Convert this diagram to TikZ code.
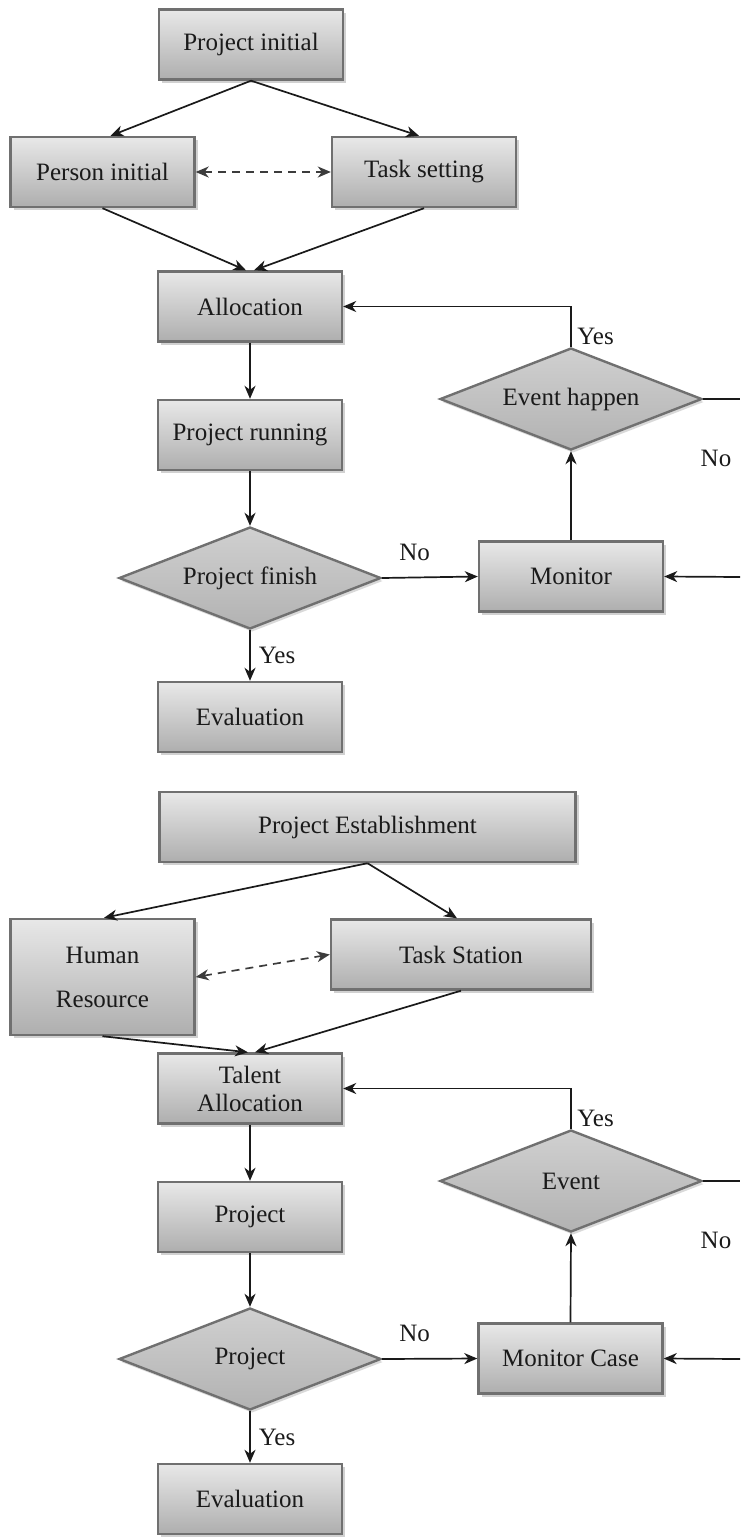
\documentclass[tikz,border=0pt]{standalone}
\usepackage{fontspec}
\setmainfont{Liberation Serif}
\usepackage{tikz}
\usetikzlibrary{arrows.meta,shapes.geometric,shadows,positioning}
\definecolor{boxtop}{HTML}{E8E8E8}
\definecolor{boxbottom}{HTML}{AEAEAE}
\definecolor{boxedge}{HTML}{707070}
\definecolor{diatop}{HTML}{D0D0D0}
\definecolor{diabottom}{HTML}{B2B2B2}
\definecolor{ink}{HTML}{1A1A1A}

\begin{document}
\begin{tikzpicture}[x=0.5pt,y=-0.5pt,
    font=\fontsize{12.5}{15}\selectfont, text=ink,
    block/.style={rectangle,draw=boxedge,line width=1.2pt,top color=boxtop,bottom color=boxbottom,
      minimum width=92pt,minimum height=35pt,inner sep=2pt,
      drop shadow={shadow xshift=1.5pt,shadow yshift=-1.5pt,fill=black!18,opacity=1}},
    decision/.style={diamond,aspect=2.6,draw=boxedge,line width=1.2pt,top color=diatop,bottom color=diabottom,
      minimum width=131pt,minimum height=51pt,inner sep=1pt,
      drop shadow={shadow xshift=1pt,shadow yshift=-1.5pt,fill=black!15,opacity=1}},
    connector/.style={-{Stealth[length=6.5pt,width=5.5pt,inset=2pt]},line width=0.85pt,draw=ink},
    dconnector/.style={{Stealth[length=6.5pt,width=5.5pt,inset=2pt]}-{Stealth[length=6.5pt,width=5.5pt,inset=2pt]},
      line width=0.85pt,draw=ink!85,dash pattern=on 4pt off 3pt},
    line/.style={line width=0.85pt,draw=ink},
    tag/.style={inner sep=1pt}]
    \useasboundingbox (0,0) rectangle (740,1537);
    % First chart
    \node (p_init) [block] at (251,44.5) {Project initial};
    \node (person) [block] at (102.5,172) {Person initial};
    \node (task) [block] at (424,172) {Task setting};
    \node (alloc) [block] at (250,306.5) {Allocation};
    \node (running) [block] at (250,435) {Project running};
    \node (finish) [decision] at (250,578) {Project finish};
    \node (eval_a) [block] at (250,717) {Evaluation};
    \node (event_a) [decision] at (571,399) {Event happen};
    \node (monitor_a) [block] at (571,576.5) {Monitor};
    \coordinate (no_out_a) at (740,399);
    \coordinate (no_in_a) at (740,577);

    \draw[connector] (p_init.south) to ([xshift=4pt]person.north);
    \draw[connector] (p_init.south) to ([xshift=-2.5pt]task.north);
    \draw[dconnector] (person.east) to (task.west);
    \draw[connector] (person.south) to ([xshift=-2pt]alloc.north);
    \draw[connector] (task.south) to ([xshift=2pt]alloc.north);
    \draw[connector] (alloc.south) to (running.north);
    \draw[connector] (running.south) to (finish.north);
    \draw[connector] (finish.south) to node[tag,right=3pt] (yes_fin_a) {Yes} (eval_a.north);
    \draw[connector] (finish.east) to node[tag,above=7pt,pos=0.34] (no_fin_a) {No} (monitor_a.west);
    \draw[connector] (monitor_a.north) to (event_a.south);
    \draw[connector] (event_a.north) |- (alloc.east);
    \node (yes_ev_a) [tag,anchor=south west,xshift=2pt] at (event_a.north) {Yes};
    \draw[line] (event_a.east) to (no_out_a);
    \node (no_ev_a) [tag] at (716,458) {No};
    \draw[connector] (no_in_a) to (monitor_a.east);

    % Second chart
    \node (establish) [block,minimum width=208pt] at (367.5,827) {Project Establishment};
    \node (human) [block,minimum height=58pt,align=center] at (102.5,977) {Human\\[7pt]Resource};
    \node (station) [block,minimum width=130pt] at (461,954.5) {Task Station};
    \node (talent) [block,align=center] at (250,1088.5) {Talent\\[-1pt]Allocation};
    \node (project) [block] at (250,1217) {Project};
    \node (check) [decision] at (250,1359) {Project};
    \node (eval_b) [block] at (250,1499) {Evaluation};
    \node (event_b) [decision] at (571,1181) {Event};
    \node (monitor_b) [block] at (570.5,1358.5) {Monitor Case};
    \coordinate (no_out_b) at (740,1181);
    \coordinate (no_in_b) at (740,1359);

    \draw[connector] (establish.south) to ([xshift=0.75pt]human.north);
    \draw[connector] (establish.south) to ([xshift=-2pt]station.north);
    \draw[dconnector] (human.east) to (station.west);
    \draw[connector] (human.south) to ([xshift=-1pt]talent.north);
    \draw[connector] (station.south) to ([xshift=2.5pt]talent.north);
    \draw[connector] (talent.south) to (project.north);
    \draw[connector] (project.south) to (check.north);
    \draw[connector] (check.south) to node[tag,right=3pt] (yes_fin_b) {Yes} (eval_b.north);
    \draw[connector] (check.east) to node[tag,above=7pt,pos=0.34] (no_fin_b) {No} (monitor_b.west);
    \draw[connector] (monitor_b.north) to (event_b.south);
    \draw[connector] (event_b.north) |- (talent.east);
    \node (yes_ev_b) [tag,anchor=south west,xshift=2pt] at (event_b.north) {Yes};
    \draw[line] (event_b.east) to (no_out_b);
    \node (no_ev_b) [tag] at (716,1240) {No};
    \draw[connector] (no_in_b) to (monitor_b.east);
\end{tikzpicture}
\end{document}
